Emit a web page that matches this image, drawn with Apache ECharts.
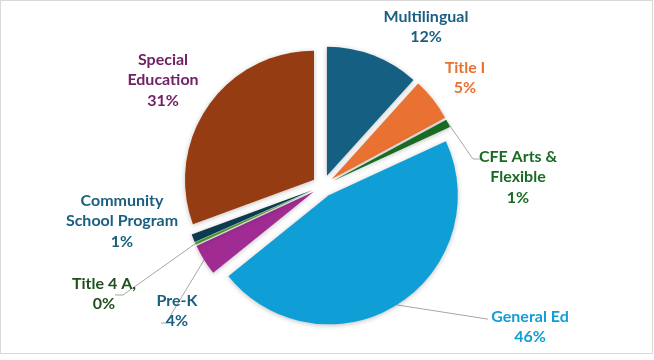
<!DOCTYPE html>
<html>
<head>
<meta charset="utf-8">
<script src="https://cdn.jsdelivr.net/npm/echarts@6/dist/echarts.min.js"></script>
<style>
  html, body { margin: 0; padding: 0; background: #ffffff; }
  #frame { position: absolute; left: 0; top: 0; width: 651px; height: 352px; border: 1px solid #d9d9d9; box-sizing: content-box; }
  #chart { width: 654px; height: 360px; position: absolute; left: 0; top: 0; }
</style>
</head>
<body>
<div id="frame"></div>
<div id="chart"></div>
<script>
// Budget share by program (percent of total)
const categories = ['Multilingual', 'Title I', 'CFE Arts & Flexible', 'General Ed', 'Pre-K', 'Title 4 A', 'Community School Program', 'Special Education'];
const labelTexts = ['Multilingual', 'Title I', 'CFE Arts &\nFlexible', 'General Ed', 'Pre-K', 'Title 4 A,', 'Community\nSchool Program', 'Special\nEducation'];
const shares = [11.7, 5.4, 1.0, 46.1, 3.9, 0.3, 1.0, 30.6];

const sliceColors = ['#156082', '#e97132', '#196b24', '#0f9ed5', '#a02b93', '#4ea72e', '#0c3a4e', '#963c12'];
const labelColors = ['#1a5e80', '#e97132', '#196b24', '#0f9ed5', '#1a5e80', '#1e4f1c', '#1a5e80', '#722165'];

// Label anchor (block centre) and leader-line bends for each slice label
const labelPlacement = [
  { x: 426, y: 27, line: null },
  { x: 465, y: 78, line: null },
  { x: 518, y: 177, line: [[473, 159], [481, 159]] },
  { x: 530, y: 327, line: [[487, 319], [488, 319]] },
  { x: 177, y: 311, line: [[166, 323], [161, 323]] },
  { x: 104, y: 294, line: [[123, 295], [115, 295]] },
  { x: 122, y: 221, line: null },
  { x: 163, y: 80, line: null }
];

const pieCenter = [323, 186];
const pieRadius = 129;
const explode = 11;

const chart = echarts.init(document.getElementById('chart'), null, { renderer: 'canvas' });

// Exploded slices
const sliceData = categories.map((name, i) => ({
  name: name,
  value: shares[i],
  selected: true,
  itemStyle: { color: sliceColors[i] }
}));

// Invisible ring at the exploded outer edge that carries the labels and leader lines
const labelData = categories.map((name, i) => ({
  name: name,
  value: shares[i],
  label: { color: labelColors[i] },
  labelLine: { show: !!labelPlacement[i].line }
}));

chart.setOption({
  animation: false,
  backgroundColor: 'transparent',
  series: [{
    type: 'pie',
    center: pieCenter,
    radius: pieRadius,
    startAngle: 90,
    clockwise: true,
    selectedMode: 'multiple',
    selectedOffset: explode,
    silent: true,
    itemStyle: {
      shadowBlur: 5,
      shadowColor: 'rgba(0,0,0,0.25)',
      shadowOffsetX: 0,
      shadowOffsetY: 1
    },
    label: { show: false },
    labelLine: { show: false },
    data: sliceData
  }, {
    type: 'pie',
    center: pieCenter,
    radius: pieRadius + explode,
    startAngle: 90,
    clockwise: true,
    silent: true,
    avoidLabelOverlap: false,
    itemStyle: { color: 'rgba(0,0,0,0)' },
    label: {
      show: true,
      position: 'outside',
      fontFamily: 'Lato',
      fontWeight: 'bold',
      fontSize: 16,
      lineHeight: 20.5,
      align: 'center',
      formatter: (p) => labelTexts[p.dataIndex] + '\n' + Math.round(p.percent) + '%'
    },
    labelLine: {
      show: true,
      length: 10,
      length2: 10,
      lineStyle: { color: '#a6a6a6', width: 1 }
    },
    labelLayout: (params) => {
      const pl = labelPlacement[params.dataIndex];
      const out = { x: pl.x, y: pl.y, align: 'center', verticalAlign: 'middle' };
      if (pl.line && params.labelLinePoints) {
        out.labelLinePoints = [params.labelLinePoints[0], pl.line[0], pl.line[1]];
      }
      return out;
    },
    data: labelData
  }]
});
</script>
</body>
</html>
